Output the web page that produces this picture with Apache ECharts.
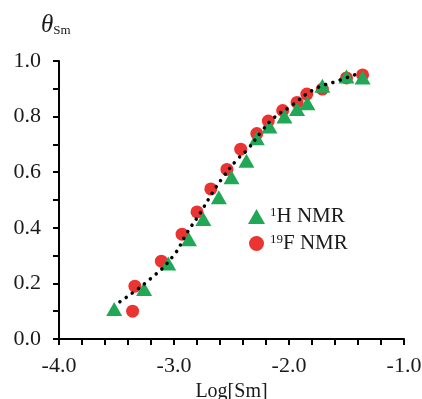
<!DOCTYPE html>
<html><head><meta charset="utf-8">
<script src="https://cdn.jsdelivr.net/npm/echarts@6/dist/echarts.min.js"></script>
<style>html,body{margin:0;padding:0;background:#fff}#c{width:422px;height:399px}</style>
</head><body><div id="c"></div>
<script>
// 1H NMR (triangles): [log[Sm], theta]
const hX = [-3.52,-3.26,-3.05,-2.87,-2.745,-2.61,-2.50,-2.37,-2.28,-2.17,-2.04,-1.93,-1.84,-1.71,-1.50,-1.36];
const hY = [0.108,0.18,0.272,0.359,0.432,0.51,0.582,0.641,0.722,0.764,0.80,0.827,0.848,0.911,0.944,0.941];
// 19F NMR (circles)
const fX = [-3.36,-3.34,-3.11,-2.93,-2.80,-2.68,-2.54,-2.42,-2.28,-2.18,-2.055,-1.93,-1.845,-1.71,-1.50,-1.36];
const fY = [0.10,0.19,0.28,0.377,0.457,0.54,0.61,0.683,0.739,0.784,0.822,0.851,0.881,0.899,0.939,0.95];
// dotted fit curve
const fitX = [-3.47,-3.21,-3.006,-2.89,-2.774,-2.66,-2.57,-2.455,-2.36,-2.24,-2.128,-2.0,-1.78,-1.58,-1.41];
const fitY = [0.134,0.215,0.299,0.38,0.452,0.53,0.584,0.644,0.682,0.746,0.797,0.833,0.898,0.928,0.953];
const xTicks = ['-4.0','-3.0','-2.0','-1.0'];
const yTicks = ['0.0','0.2','0.4','0.6','0.8','1.0'];
const seriesNames = ['1H NMR','19F NMR'];

const zip = (a,b) => a.map((v,i)=>[v,b[i]]);
const font = 'Liberation Serif';
const ink = '#1a1a1a';
const near = (a,b) => Math.abs(a-b) < 1e-6;
const chart = echarts.init(document.getElementById('c'));
chart.setOption({
  animation:false,
  backgroundColor:'#fff',
  grid:{left:59,right:18,top:61,bottom:60,containLabel:false,outerBoundsMode:'none'},
  xAxis:{type:'value',min:-4,max:-1,interval:0.2,
    name:'Log[Sm]',nameLocation:'middle',nameGap:31,
    nameTextStyle:{fontFamily:font,fontSize:20,color:ink},
    axisLine:{lineStyle:{color:'#000',width:2}},
    axisTick:{show:true,length:6,lineStyle:{color:'#000',width:2}},
    splitLine:{show:false},
    axisLabel:{fontFamily:font,fontSize:22,color:ink,margin:16,showMinLabel:true,showMaxLabel:true,
      formatter:(v)=>{const i=Math.round(v+4); return near(v+4,i)?xTicks[i]:'';}}
  },
  yAxis:{type:'value',min:0,max:1,interval:0.1,
    axisLine:{show:true,lineStyle:{color:'#000',width:2}},
    axisTick:{show:true,length:6,lineStyle:{color:'#000',width:2}},
    splitLine:{show:false},
    axisLabel:{fontFamily:font,fontSize:22,color:ink,margin:18,
      formatter:(v)=>{const i=Math.round(v*5); return near(v*5,i)?yTicks[i]:'';}}
  },
  legend:{orient:'vertical',left:243,top:201,itemGap:6,itemWidth:17,itemHeight:15,
    data:[{name:seriesNames[0],icon:'triangle'},{name:seriesNames[1],icon:'circle'}],
    formatter:(n)=> n===seriesNames[0] ? '{s|1}H NMR' : '{s|19}F NMR',
    textStyle:{fontFamily:font,fontSize:21,color:ink,
      rich:{s:{fontFamily:font,fontSize:13,color:ink,verticalAlign:'top',padding:[0,0,7,0]}}}
  },
  graphic:[{type:'text',left:41,top:13,style:{
    text:'{t|θ}{s|Sm}',
    rich:{t:{fontFamily:font,fontStyle:'italic',fontSize:25,fill:ink},
          s:{fontFamily:font,fontSize:13,fill:ink,padding:[11,0,0,0]}}}}],
  series:[
    {name:seriesNames[1],type:'scatter',symbol:'circle',symbolSize:13,
      itemStyle:{color:'#E93432',opacity:1},data:zip(fX,fY),z:2},
    {name:seriesNames[0],type:'scatter',symbol:'triangle',symbolSize:[16,14],
      itemStyle:{color:'#21A857',opacity:1},data:zip(hX,hY),z:3},
    {name:'fit',type:'line',smooth:true,showSymbol:false,symbol:'none',
      lineStyle:{color:'#000',width:3.5,type:[0.1,7.5],cap:'round'},
      data:zip(fitX,fitY),z:4}
  ]
});
</script></body></html>
